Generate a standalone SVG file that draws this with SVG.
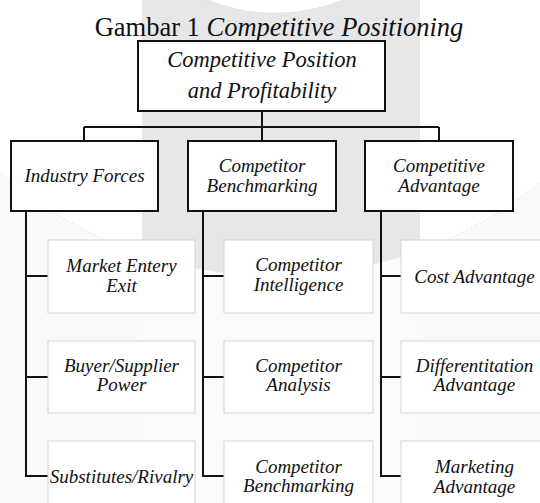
<svg xmlns="http://www.w3.org/2000/svg" width="540" height="503" viewBox="0 0 540 503">
<style>
.t{font-family:"Liberation Serif","Times New Roman",serif;fill:#111;text-anchor:middle}
.i{font-style:italic}
.b1{fill:#fff;stroke:#111;stroke-width:2}
.b2{fill:#fff;stroke:#d4d4d4;stroke-width:1}
.c{fill:none;stroke:#111;stroke-width:2}
</style>
<defs>
<clipPath id="bigc"><circle cx="276" cy="-144" r="420"/></clipPath>
</defs>
<g id="background">
<rect x="0" y="0" width="540" height="503" fill="#fafafa"/>
<circle cx="276" cy="-144" r="420" fill="#ffffff" stroke="#dcdcdc" stroke-width="0.7" stroke-dasharray="3 2"/>
<rect x="142" y="0" width="278" height="503" fill="#fbfbfb"/>
<rect x="142" y="0" width="278" height="503" fill="#e6e7e9" clip-path="url(#bigc)"/>
<circle cx="275" cy="-169" r="182" fill="#ffffff" stroke="#dcdcdc" stroke-width="0.7" stroke-dasharray="3 2"/>
</g>
<text id="title" class="t" x="279" y="36" font-size="26.5">Gambar 1 <tspan class="i">Competitive Positioning</tspan></text>
<g id="connectors">
<path class="c" d="M262 111V127M84 127H439M84 127V141M262 127V141M439 127V141"/>
<path class="c" d="M26 211V476H48M26 276H48M26 377H48"/>
<path class="c" d="M203 211V476H224M203 276H224M203 377H224"/>
<path class="c" d="M381 211V476H401M381 276H401M381 377H401"/>
</g>
<g id="root">
<rect class="b1" x="138" y="41" width="247" height="70"/>
<text class="t i" x="262" y="67" font-size="22.5">Competitive Position</text>
<text class="t i" x="262" y="98" font-size="22.5">and Profitability</text>
</g>
<g id="industry-forces">
<rect class="b1" x="11" y="141" width="147" height="70"/>
<text class="t i" x="84.5" y="182" font-size="19">Industry Forces</text>
</g>
<g id="competitor-benchmarking">
<rect class="b1" x="188" y="141" width="148" height="70"/>
<text class="t i" x="262" y="172" font-size="19">Competitor</text>
<text class="t i" x="262" y="192" font-size="19">Benchmarking</text>
</g>
<g id="competitive-advantage">
<rect class="b1" x="365" y="141" width="148" height="70"/>
<text class="t i" x="439" y="172" font-size="19">Competitive</text>
<text class="t i" x="439" y="192" font-size="19">Advantage</text>
</g>
<g id="market-entry-exit">
<rect class="b2" x="48" y="240" width="147" height="73"/>
<text class="t i" x="121.5" y="272" font-size="19">Market Entery</text>
<text class="t i" x="121.5" y="292" font-size="19">Exit</text>
</g>
<g id="buyer-supplier-power">
<rect class="b2" x="48" y="341" width="147" height="72"/>
<text class="t i" x="121.5" y="372" font-size="19">Buyer/Supplier</text>
<text class="t i" x="121.5" y="391" font-size="19">Power</text>
</g>
<g id="substitutes-rivalry">
<rect class="b2" x="48" y="441" width="147" height="73"/>
<text class="t i" x="121.5" y="483" font-size="19">Substitutes/Rivalry</text>
</g>
<g id="competitor-intelligence">
<rect class="b2" x="224" y="240" width="149" height="73"/>
<text class="t i" x="298.5" y="271" font-size="19">Competitor</text>
<text class="t i" x="298.5" y="291" font-size="19">Intelligence</text>
</g>
<g id="competitor-analysis">
<rect class="b2" x="224" y="341" width="149" height="72"/>
<text class="t i" x="298.5" y="372" font-size="19">Competitor</text>
<text class="t i" x="298.5" y="391" font-size="19">Analysis</text>
</g>
<g id="competitor-benchmarking-2">
<rect class="b2" x="224" y="441" width="149" height="73"/>
<text class="t i" x="298.5" y="473" font-size="19">Competitor</text>
<text class="t i" x="298.5" y="492" font-size="19">Benchmarking</text>
</g>
<g id="cost-advantage">
<rect class="b2" x="401" y="240" width="147" height="73"/>
<text class="t i" x="474.5" y="283" font-size="19">Cost Advantage</text>
</g>
<g id="differentiation-advantage">
<rect class="b2" x="401" y="341" width="147" height="72"/>
<text class="t i" x="474.5" y="372" font-size="19">Differentitation</text>
<text class="t i" x="474.5" y="391" font-size="19">Advantage</text>
</g>
<g id="marketing-advantage">
<rect class="b2" x="401" y="441" width="147" height="73"/>
<text class="t i" x="474.5" y="473" font-size="19">Marketing</text>
<text class="t i" x="474.5" y="493" font-size="19">Advantage</text>
</g>
</svg>
